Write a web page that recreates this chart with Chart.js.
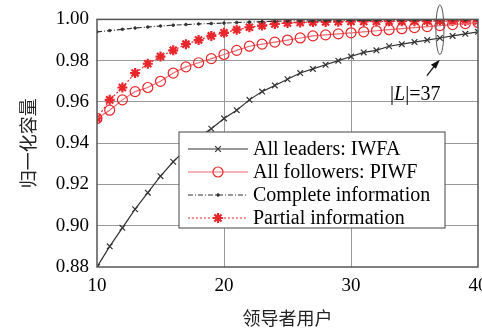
<!DOCTYPE html>
<html>
<head>
<meta charset="utf-8">
<script src="https://cdn.jsdelivr.net/npm/chart.js@4/dist/chart.umd.min.js"></script>
<style>
  body { margin: 0; background: #fff; }
  #wrap { width: 482px; height: 333px; }
</style>
</head>
<body>
<div id="wrap"><canvas id="capChart" width="482" height="333"></canvas></div>
<script>
const leaders = [10, 11, 12, 13, 14, 15, 16, 17, 18, 19, 20, 21, 22, 23, 24, 25,
  26, 27, 28, 29, 30, 31, 32, 33, 34, 35, 36, 37, 38, 39, 40];
const allLeadersIWFA = [0.880, 0.890, 0.899, 0.908, 0.916, 0.924, 0.931, 0.937, 0.943, 0.947,
  0.952, 0.956, 0.961, 0.965, 0.968, 0.971, 0.974, 0.976, 0.978, 0.980,
  0.982, 0.984, 0.985, 0.987, 0.988, 0.989, 0.990, 0.991, 0.992, 0.993, 0.994];
const allFollowersPIWF = [0.952, 0.956, 0.961, 0.965, 0.967, 0.970, 0.974, 0.977, 0.979, 0.981,
  0.983, 0.985, 0.987, 0.988, 0.989, 0.990, 0.991, 0.992, 0.9925, 0.993,
  0.9935, 0.994, 0.9945, 0.995, 0.9955, 0.996, 0.9965, 0.997, 0.9975, 0.998, 0.9985];
const completeInfo = [0.9940, 0.9946, 0.9952, 0.9958, 0.9963, 0.9968, 0.9972, 0.9975, 0.9978, 0.9980,
  0.9982, 0.9985, 0.9987, 0.9989, 0.9991, 0.9992, 0.9993, 0.9993, 0.9994, 0.9994,
  0.9995, 0.9995, 0.9995, 0.9996, 0.9996, 0.9996, 0.9996, 0.9997, 0.9997, 0.9997, 0.9997];
const partialInfo = [0.952, 0.961, 0.967, 0.974, 0.9785, 0.982, 0.985, 0.988, 0.990, 0.992,
  0.9935, 0.995, 0.9962, 0.997, 0.9978, 0.9983, 0.9985, 0.9987, 0.9988, 0.9989,
  0.999, 0.999, 0.999, 0.9991, 0.9991, 0.9991, 0.9992, 0.9992, 0.9992, 0.9992, 0.9992];
const xTicks = [10, 20, 30, 40];
const legendLabels = ['All leaders: IWFA', 'All followers: PIWF', 'Complete information', 'Partial information'];
const markLeader = 37;

const RED = '#e8262b';
const serif = '"Liberation Serif", "DejaVu Serif", serif';
const cjk = '"Noto Sans CJK SC", sans-serif';

function toPoints(vals) {
  return vals.map((v, i) => ({ x: leaders[i], y: v }));
}

const datasets = [
  { label: legendLabels[0], data: toPoints(allLeadersIWFA), borderColor: '#333', borderWidth: 1.2,
    pointStyle: 'crossRot', pointRadius: 4, pointBorderColor: '#333', pointBorderWidth: 1.2 },
  { label: legendLabels[1], data: toPoints(allFollowersPIWF), borderColor: '#ec6a6d', borderWidth: 1.2,
    pointStyle: 'circle', pointRadius: 5, pointBorderColor: RED, pointBackgroundColor: 'rgba(0,0,0,0)', pointBorderWidth: 1.2 },
  { label: legendLabels[2], data: toPoints(completeInfo), borderColor: '#333', borderWidth: 1.2, borderDash: [5, 2, 1, 2],
    pointStyle: 'circle', pointRadius: 1.3, pointBorderColor: '#333', pointBackgroundColor: '#333', pointBorderWidth: 1 },
  { label: legendLabels[3], data: toPoints(partialInfo), borderColor: RED, borderWidth: 1.2, borderDash: [2, 2],
    pointStyle: 'star', pointRadius: 5, pointBorderColor: RED, pointBorderWidth: 2.2 }
];

const framePlugin = {
  id: 'frame',
  afterDraw(chart) {
    const ctx = chart.ctx;
    const a = chart.chartArea;
    const xs = chart.scales.x, ys = chart.scales.y;
    ctx.save();
    ctx.strokeStyle = '#555';
    ctx.lineWidth = 1.5;
    ctx.strokeRect(a.left, a.top, a.right - a.left, a.bottom - a.top);

    // legend box
    const lx = 179, ly = 132, lw = 266, lh = 96;
    ctx.fillStyle = '#fff';
    ctx.fillRect(lx, ly, lw, lh);
    ctx.strokeStyle = '#444';
    ctx.lineWidth = 1;
    ctx.strokeRect(lx, ly, lw, lh);
    ctx.font = '20px ' + serif;
    ctx.textBaseline = 'middle';
    chart.data.datasets.forEach((ds, i) => {
      const y = 149 + i * 23;
      ctx.strokeStyle = ds.borderColor;
      ctx.lineWidth = ds.borderWidth;
      ctx.setLineDash(ds.borderDash || []);
      ctx.beginPath();
      ctx.moveTo(188, y);
      ctx.lineTo(248, y);
      ctx.stroke();
      ctx.setLineDash([]);
      ctx.strokeStyle = ds.pointBorderColor;
      ctx.fillStyle = ds.pointBackgroundColor || ds.pointBorderColor;
      ctx.lineWidth = ds.pointBorderWidth;
      Chart.helpers.drawPoint(ctx, {
        pointStyle: ds.pointStyle, radius: ds.pointRadius, borderWidth: ds.pointBorderWidth
      }, 218, y);
      ctx.fillStyle = '#000';
      ctx.textAlign = 'left';
      ctx.fillText(ds.label, 253, y + 1);
    });

    // |L|=37 annotation
    const ex = xs.getPixelForValue(markLeader);
    const eTop = ys.getPixelForValue(1.007), eBot = ys.getPixelForValue(0.983);
    ctx.strokeStyle = '#555';
    ctx.lineWidth = 1;
    ctx.beginPath();
    ctx.ellipse(ex, (eTop + eBot) / 2, 4, (eBot - eTop) / 2, 0, 0, Math.PI * 2);
    ctx.stroke();
    const tipY = ys.getPixelForValue(0.9805);
    ctx.strokeStyle = '#111';
    ctx.lineWidth = 1.3;
    ctx.beginPath();
    ctx.moveTo(ex - 13, tipY + 16);
    ctx.lineTo(ex - 2, tipY + 2);
    ctx.stroke();
    ctx.fillStyle = '#111';
    ctx.beginPath();
    ctx.moveTo(ex, tipY);
    ctx.lineTo(ex - 9, tipY + 5);
    ctx.lineTo(ex - 4, tipY + 9);
    ctx.closePath();
    ctx.fill();
    ctx.fillStyle = '#000';
    ctx.textAlign = 'left';
    ctx.font = '20px ' + serif;
    let tx = 390;
    const ty = ys.getPixelForValue(0.9635);
    ctx.fillText('|', tx, ty);
    tx += ctx.measureText('|').width;
    ctx.font = 'italic 20px ' + serif;
    ctx.fillText('L', tx, ty);
    tx += ctx.measureText('L').width;
    ctx.font = '20px ' + serif;
    ctx.fillText('|=37', tx, ty);
    ctx.restore();
  }
};

new Chart(document.getElementById('capChart').getContext('2d'), {
  type: 'line',
  data: { datasets: datasets },
  plugins: [framePlugin],
  options: {
    responsive: false,
    animation: false,
    layout: { autoPadding: false, padding: { top: 18, right: 4, left: 0, bottom: 0 } },
    plugins: { legend: { display: false }, tooltip: { enabled: false } },
    elements: { line: { tension: 0 } },
    scales: {
      x: {
        type: 'linear', min: 10, max: 40,
        afterBuildTicks: s => { s.ticks = xTicks.map(v => ({ value: v })); },
        afterFit: s => { s.height = 66; s.paddingLeft = 0; s.paddingRight = 0; },
        grid: { color: '#999', borderDash: [2, 3], drawTicks: false,
          lineWidth: ctx => (ctx.tick && (ctx.tick.value === 10 || ctx.tick.value === 40)) ? 0 : 1 },
        border: { display: false },
        ticks: { color: '#000', font: { family: serif, size: 19 }, padding: 8, maxRotation: 0 },
        title: { display: true, text: '领导者用户', color: '#222', font: { family: cjk, size: 18 }, padding: { top: 4 } }
      },
      y: {
        min: 0.88, max: 1.0,
        ticks: { stepSize: 0.02, color: '#000', font: { family: serif, size: 19 }, padding: 8,
          callback: v => v.toFixed(2) },
        afterFit: s => { s.width = 97; },
        grid: { color: '#999', borderDash: [2, 3], drawTicks: false,
          lineWidth: ctx => (ctx.tick && (Math.abs(ctx.tick.value - 0.88) < 1e-6 || Math.abs(ctx.tick.value - 1) < 1e-6)) ? 0 : 1 },
        border: { display: false },
        title: { display: true, text: '归一化容量', color: '#222', font: { family: cjk, size: 18 }, padding: { top: 17, bottom: 4 } }
      }
    }
  }
});
</script>
</body>
</html>
